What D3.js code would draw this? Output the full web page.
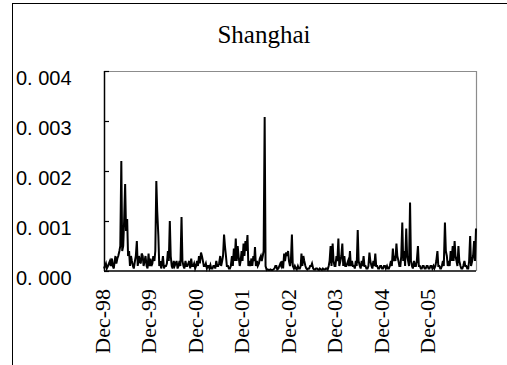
<!DOCTYPE html>
<html>
<head>
<meta charset="utf-8">
<script src="https://cdn.jsdelivr.net/npm/d3@7"></script>
<style>
  body { margin: 0; background: #fff; }
  svg { display: block; }
</style>
</head>
<body>
<div id="chart"></div>
<script>
// weekly-ish observations from Dec 1998 (days 1, 8, 16, 23 of each month)
const startYear = 1998, startMonth = 11;
const obsDays = [1, 8, 16, 23];
const values = [
  .00005, .0001, .00015, .00005, .0001, .00015, .0002, .0001, .00025, .0001,
  .00005, .0002, .0003, .00015, .00025, .0003, .0004, .0005, .0022, .0004,
  .0005, .001, .00174, .0008, .00104, .0003, .0004, .0001, .0003, .0002,
  .0001, .00005, .0002, .0003, .0006, .0001, .0003, .0002, .00015, .00035,
  .0003, .0001, .0002, .0003, .0001, .00005, .00035, .0001, .00025, .0001,
  .00015, .0003, .0002, .0004, .0018, .0012, .0007, .0001, .0002, .00005,
  .00015, .0003, .00005, .0001, .0001, .00015, .0004, .0002, .001, .0003,
  .0001, .00005, .0002, .0001, .00015, .0002, .00005, .0001, .0002, .0001,
  .00108, .0002, .0001, .00005, .0002, .0001, .0001, .00015, .0002, .00005,
  .00025, .0001, .0001, .00015, .00005, .0001, .0002, .0001, .0003, .00015,
  .00037, .0003, .0002, .0001, .0001, .00015, .00005, .0001, .0001, .00005,
  .00012, .00005, .00005, .0001, .0001, .00005, .0002, .0001, .0001, .00015,
  .0003, .0001, .0002, .0003, .00073, .0005, .0003, .0001, .0001, .00005,
  .00005, .0001, .0003, .0001, .00045, .0002, .00065, .0002, .0005, .0003,
  .0001, .0002, .0004, .0002, .00055, .0003, .0006, .0004, .00072, .0001,
  .0002, .0001, .00025, .0001, .0003, .0002, .00048, .0001, .0002, .0001,
  .00015, .00025, .0003, .0002, .0003, .0004, .00308, .0001, .00002, .00003,
  .00002, .00002, .00003, .00002, .00002, .00003, .00005, .0001, .0001, .00003,
  .00005, .0001, .00015, .0001, .0002, .00005, .00035, .0002, .00037, .0003,
  .0004, .0002, .0001, .0002, .00073, .0001, .00005, .0001, .00005, .00003,
  .0001, .00005, .00005, .0001, .00035, .0001, .0003, .0002, .0001, .00005,
  .00003, .00005, .00005, .0001, .0001, .00015, .00005, .00003, .00003, .00005,
  .00005, .00003, .00002, .00005, .00003, .00002, .00005, .00003, .00003, .00005,
  .00005, .00003, .0001, .0002, .0005, .0001, .00055, .0002, .0001, .0001,
  .0003, .0002, .00065, .0001, .0002, .0003, .00055, .0001, .0003, .0001,
  .0001, .00015, .0002, .0001, .0004, .0001, .0002, .0001, .0001, .00005,
  .0002, .0001, .00082, .0002, .0001, .00005, .0002, .0001, .0003, .0001,
  .0001, .00005, .00005, .0001, .00037, .0002, .0001, .00005, .0002, .0001,
  .00035, .0001, .0001, .00005, .00005, .0001, .0001, .00005, .00005, .0001,
  .0001, .00005, .0001, .00005, .00005, .0001, .0002, .0001, .00045, .0002,
  .0003, .0002, .00055, .0003, .0002, .0001, .0001, .0003, .00097, .0002,
  .0004, .0001, .00085, .0003, .0002, .0001, .00137, .0002, .0001, .00005,
  .0002, .0001, .0001, .0002, .0005, .0001, .0001, .00005, .00005, .0001,
  .0001, .00005, .00005, .0001, .0001, .00005, .00005, .0001, .0001, .00005,
  .0001, .00005, .0001, .0002, .0004, .0001, .0001, .00005, .00005, .0001,
  .0002, .0001, .00097, .0004, .0003, .0001, .0002, .0001, .0004, .0002,
  .0005, .0002, .0006, .0003, .0002, .0001, .0005, .0002, .0001, .00005,
  .00005, .0001, .0002, .0001, .0001, .00005, .00005, .0002, .0007, .0001,
  .0002, .0003, .0006, .0002, .00085
];
const yTicks = [0, 0.001, 0.002, 0.003, 0.004];
const yTickLabels = ["0. 000", "0. 001", "0. 002", "0. 003", "0. 004"];
const xTickLabels = ["Dec-98", "Dec-99", "Dec-00", "Dec-01", "Dec-02", "Dec-03", "Dec-04", "Dec-05"];
const title = "Shanghai";

const width = 507, height = 365;
const plot = { left: 104, top: 71, right: 476, bottom: 271 };

const dateAt = i => new Date(startYear, startMonth + Math.floor(i / 4), obsDays[i % 4]);
const data = values.map((v, i) => ({ date: dateAt(i), value: v }));

const svg = d3.select("#chart").append("svg")
  .attr("width", width)
  .attr("height", height);

// outer chart frame
svg.append("rect")
  .attr("x", 12.5).attr("y", 3.5)
  .attr("width", width + 10).attr("height", height + 10)
  .attr("fill", "none")
  .attr("stroke", "#000")
  .attr("stroke-width", 1);

svg.append("text")
  .attr("x", 264).attr("y", 43)
  .attr("text-anchor", "middle")
  .attr("font-family", "'Liberation Serif', 'Times New Roman', serif")
  .attr("font-size", 25)
  .text(title);

const x = d3.scaleTime()
  .domain([new Date(1998, 11, 1), new Date(2006, 11, 1)])
  .range([plot.left, plot.right]);

const y = d3.scaleLinear()
  .domain([0, 0.004])
  .range([plot.bottom, plot.top]);

// plot frame (top and right in grey)
svg.append("path")
  .attr("d", `M${plot.left},${plot.top + 0.5}H${plot.right + 0.5}V${plot.bottom}`)
  .attr("fill", "none")
  .attr("stroke", "#8c8c8c")
  .attr("stroke-width", 1.2);

// y axis, ticks pointing inward
const yAxis = svg.append("g")
  .attr("transform", `translate(${plot.left},0)`)
  .call(d3.axisRight(y).tickValues(yTicks).tickSize(5).tickFormat(""));
yAxis.select(".domain").attr("stroke-width", 1.5).attr("d", `M0.5,${plot.top}V${plot.bottom}`);
yAxis.selectAll(".tick line").attr("stroke-width", 1.2);

svg.append("g")
  .selectAll("text")
  .data(yTicks)
  .join("text")
  .attr("x", 16)
  .attr("y", d => y(d) + 14)
  .attr("font-family", "'Liberation Sans', Arial, sans-serif")
  .attr("font-size", 20)
  .text((d, i) => yTickLabels[i]);

// bottom axis line
svg.append("line")
  .attr("x1", plot.left).attr("x2", plot.right)
  .attr("y1", plot.bottom).attr("y2", plot.bottom)
  .attr("stroke", "#000")
  .attr("stroke-width", 1.5);

// series
const line = d3.line()
  .x(d => x(d.date))
  .y(d => y(d.value));

svg.append("path")
  .datum(data)
  .attr("d", line)
  .attr("fill", "none")
  .attr("stroke", "#000")
  .attr("stroke-width", 2)
  .attr("stroke-linejoin", "miter")
  .attr("stroke-miterlimit", 4);

// rotated date labels
svg.append("g")
  .selectAll("text")
  .data(xTickLabels)
  .join("text")
  .attr("transform", (d, i) => `translate(${x(new Date(1998 + i, 11, 1)) - 1.5},289) rotate(-90)`)
  .attr("text-anchor", "end")
  .attr("dy", "0.33em")
  .attr("font-family", "'Liberation Serif', 'Times New Roman', serif")
  .attr("font-size", 22)
  .text(d => d);
</script>
</body>
</html>
